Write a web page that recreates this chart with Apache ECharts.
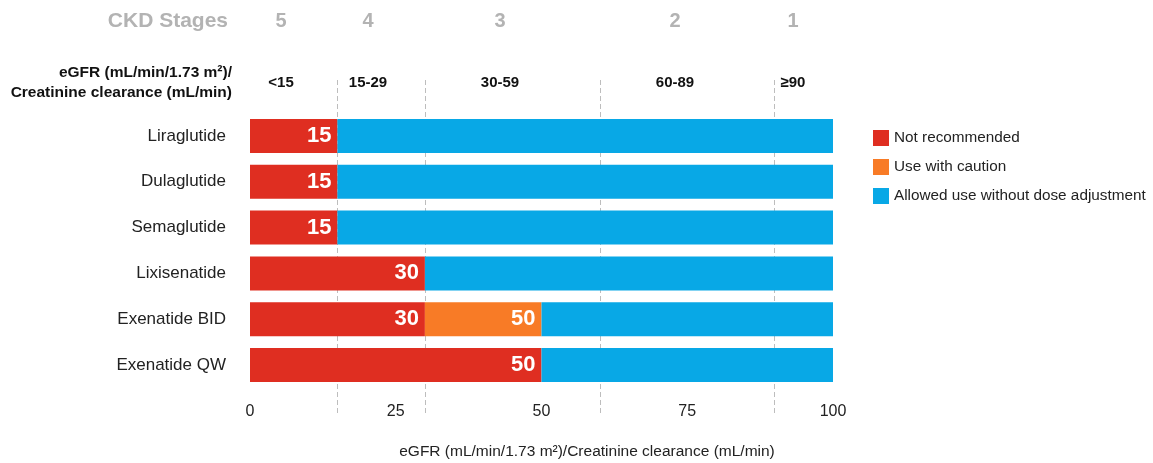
<!DOCTYPE html>
<html>
<head>
<meta charset="utf-8">
<script src="https://cdn.jsdelivr.net/npm/echarts@6/dist/echarts.min.js"></script>
<style>
  html, body { margin: 0; padding: 0; background: #fff; }
  #main { width: 1153px; height: 463px; }
</style>
</head>
<body>
<div id="main"></div>
<script>
// data
const drugs = ['Liraglutide', 'Dulaglutide', 'Semaglutide', 'Lixisenatide', 'Exenatide BID', 'Exenatide QW'];
const notRecommendedBelow = [15, 15, 15, 30, 30, 50];
const cautionBelow = [15, 15, 15, 30, 50, 50];
const stageBounds = [15, 30, 60, 90];
const stages = ['5', '4', '3', '2', '1'];
const egfrRanges = ['<15', '15-29', '30-59', '60-89', '≥90'];
const tickValues = [0, 25, 50, 75, 100];

const FONT = '"Liberation Sans", Arial, sans-serif';
const RED = '#DF2E21', ORANGE = '#F87B26', BLUE = '#08A8E6';

// segment widths for the stacked bars
const redPart = notRecommendedBelow.slice();
const orangePart = cautionBelow.map((v, i) => v - notRecommendedBelow[i]);
const bluePart = cautionBelow.map(v => 100 - v);

const chart = echarts.init(document.getElementById('main'));

// header columns (text only)
const headerX = [281, 368, 500, 675, 793];
const graphics = [
  { type: 'text', x: 228, y: 21, style: { text: 'CKD Stages', font: 'bold 21px ' + FONT, fill: '#B3B3B3', align: 'right', verticalAlign: 'middle' } },
  { type: 'text', x: 232, y: 73, style: { text: 'eGFR (mL/min/1.73 m²)/', font: 'bold 15.5px ' + FONT, fill: '#111', align: 'right', verticalAlign: 'middle' } },
  { type: 'text', x: 232, y: 93, style: { text: 'Creatinine clearance (mL/min)', font: 'bold 15.5px ' + FONT, fill: '#111', align: 'right', verticalAlign: 'middle' } },
  { type: 'text', x: 587, y: 452, style: { text: 'eGFR (mL/min/1.73 m²)/Creatinine clearance (mL/min)', font: '15.5px ' + FONT, fill: '#222', align: 'center', verticalAlign: 'middle' } }
];
stages.forEach((s, i) => {
  graphics.push({ type: 'text', x: headerX[i], y: 21, style: { text: s, font: 'bold 20px ' + FONT, fill: '#B3B3B3', align: 'center', verticalAlign: 'middle' } });
});
egfrRanges.forEach((s, i) => {
  graphics.push({ type: 'text', x: headerX[i], y: 83, style: { text: s, font: 'bold 15px ' + FONT, fill: '#111', align: 'center', verticalAlign: 'middle' } });
});

function segLabel(values, shown) {
  return {
    show: true,
    position: 'insideRight',
    distance: 6,
    color: '#fff',
    fontFamily: FONT,
    fontWeight: 'bold',
    fontSize: 22,
    formatter: p => values[p.dataIndex] > 0 ? String(shown[p.dataIndex]) : ''
  };
}

const option = {
  animation: false,
  backgroundColor: '#fff',
  textStyle: { fontFamily: FONT },
  graphic: graphics,
  legend: {
    orient: 'vertical',
    left: 868,
    top: 125,
    itemWidth: 16,
    itemHeight: 16,
    itemGap: 13,
    icon: 'rect',
    textStyle: { fontSize: 15.3, color: '#222', fontFamily: FONT },
    data: ['Not recommended', 'Use with caution', 'Allowed use without dose adjustment']
  },
  grid: [
    { left: 250, width: 583, top: 113, height: 275 },
    { left: 250, width: 583, top: 78, height: 335 }
  ],
  xAxis: [
    {
      gridIndex: 0, type: 'value', min: 0, max: 100, interval: 25,
      axisLine: { show: false }, axisTick: { show: false }, splitLine: { show: false },
      axisLabel: {
        margin: 16, fontSize: 16, color: '#222', fontFamily: FONT,
        formatter: v => tickValues.includes(v) ? String(v) : ''
      }
    },
    { gridIndex: 1, type: 'value', min: 0, max: 100, show: false }
  ],
  yAxis: [
    {
      gridIndex: 0, type: 'category', data: drugs, inverse: true,
      axisLine: { show: false }, axisTick: { show: false },
      axisLabel: { margin: 24, fontSize: 17, color: '#222', fontFamily: FONT }
    },
    { gridIndex: 1, type: 'value', min: 0, max: 1, show: false }
  ],
  series: [
    {
      name: 'stage lines', type: 'line', xAxisIndex: 1, yAxisIndex: 1, data: [], z: 1, silent: true,
      markLine: {
        z: 1, silent: true, symbol: 'none', label: { show: false },
        lineStyle: { type: [5, 3], color: '#BDBDBD', width: 1 },
        data: stageBounds.map(v => ({ xAxis: v }))
      }
    },
    {
      name: 'Not recommended', type: 'bar', stack: 'egfr', data: redPart, barWidth: 34, z: 10,
      itemStyle: { color: RED }, label: segLabel(redPart, notRecommendedBelow)
    },
    {
      name: 'Use with caution', type: 'bar', stack: 'egfr', data: orangePart, barWidth: 34, z: 10,
      itemStyle: { color: ORANGE }, label: segLabel(orangePart, cautionBelow)
    },
    {
      name: 'Allowed use without dose adjustment', type: 'bar', stack: 'egfr', data: bluePart, barWidth: 34, z: 10,
      itemStyle: { color: BLUE }
    }
  ]
};

chart.setOption(option);
</script>
</body>
</html>
